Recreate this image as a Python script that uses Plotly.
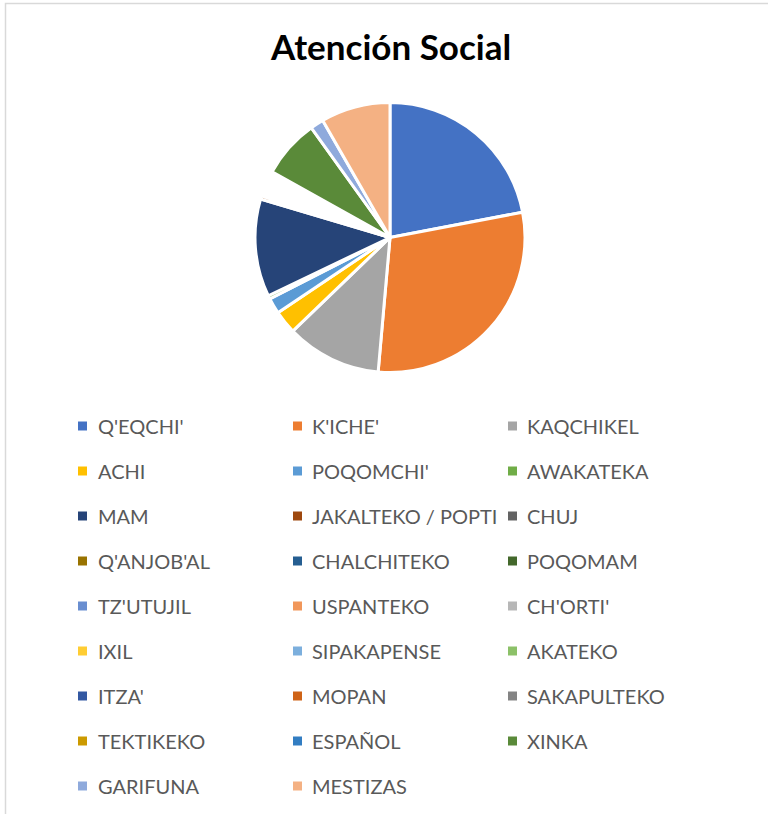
import plotly.graph_objects as go

labels = ["Q'EQCHI'", "K'ICHE'", "KAQCHIKEL", "ACHI", "POQOMCHI'", "AWAKATEKA",
          "MAM", "JAKALTEKO / POPTI", "CHUJ", "Q'ANJOB'AL", "CHALCHITEKO", "POQOMAM",
          "TZ'UTUJIL", "USPANTEKO", "CH'ORTI'", "IXIL", "SIPAKAPENSE", "AKATEKO",
          "ITZA'", "MOPAN", "SAKAPULTEKO", "TEKTIKEKO", "ESPAÑOL", "XINKA",
          "GARIFUNA", "MESTIZAS"]
values = [220, 294, 114, 28, 19, 4,
          117, 4, 2, 3, 2, 2,
          3, 2, 2, 3, 2, 2,
          1, 1, 2, 2, 2, 70,
          16, 83]
colors = ["#4472C4", "#ED7D31", "#A5A5A5", "#FFC000", "#5B9BD5", "#70AD47",
          "#264478", "#9E480E", "#636363", "#997300", "#255E91", "#43682B",
          "#698ED0", "#F1975A", "#B7B7B7", "#FFCD33", "#7CAFDD", "#8CC168",
          "#3358A2", "#CF6317", "#848484", "#CC9A00", "#327DC2", "#5A8A39",
          "#8FAADC", "#F4B183"]

W, H = 768, 814

fig = go.Figure()
fig.add_trace(go.Pie(
    labels=labels, values=values, sort=False, direction="clockwise", rotation=0,
    marker=dict(colors=colors, line=dict(color="white", width=3)),
    textinfo="none", hoverinfo="label+value+percent", showlegend=False,
    domain=dict(x=[255 / W, 525 / W], y=[1 - 373 / H, 1 - 102 / H]),
))

# manual legend: 3 columns, rows every ~45 px
col_marker_x = [78, 293, 508]
col_text_x = [96, 310, 525]
row_y0, row_dy = 426, 45
shapes = []
annotations = []
for i, (lab, col) in enumerate(zip(labels, colors)):
    r, c = divmod(i, 3)
    yc = row_y0 + r * row_dy
    mx = col_marker_x[c]
    shapes.append(dict(type="rect", xref="paper", yref="paper",
                       x0=mx / W, x1=(mx + 9) / W,
                       y0=1 - (yc + 4.5) / H, y1=1 - (yc - 4.5) / H,
                       fillcolor=col, line=dict(width=0)))
    annotations.append(dict(text=lab, xref="paper", yref="paper",
                            x=col_text_x[c] / W, y=1 - yc / H,
                            xanchor="left", yanchor="middle", showarrow=False,
                            font=dict(family="Lato", size=20, color="#595959")))

# chart border (light grey)
shapes.append(dict(type="rect", xref="paper", yref="paper",
                   x0=5.5 / W, x1=1.5, y0=-0.5, y1=1 - 3.5 / H,
                   line=dict(color="#D9D9D9", width=1.5), fillcolor="rgba(0,0,0,0)"))

annotations.append(dict(text="<b>Atención Social</b>", xref="paper", yref="paper",
                        x=390 / W, y=1 - 46 / H, xanchor="center", yanchor="middle",
                        showarrow=False,
                        font=dict(family="Lato", size=35, color="#000000")))

fig.update_layout(
    width=W, height=H, margin=dict(l=0, r=0, t=0, b=0),
    paper_bgcolor="white", plot_bgcolor="white",
    shapes=shapes, annotations=annotations,
)

fig.write_html("out.html", config={"displayModeBar": False},
               post_script="document.body.style.margin='0';document.body.style.padding='0';")
